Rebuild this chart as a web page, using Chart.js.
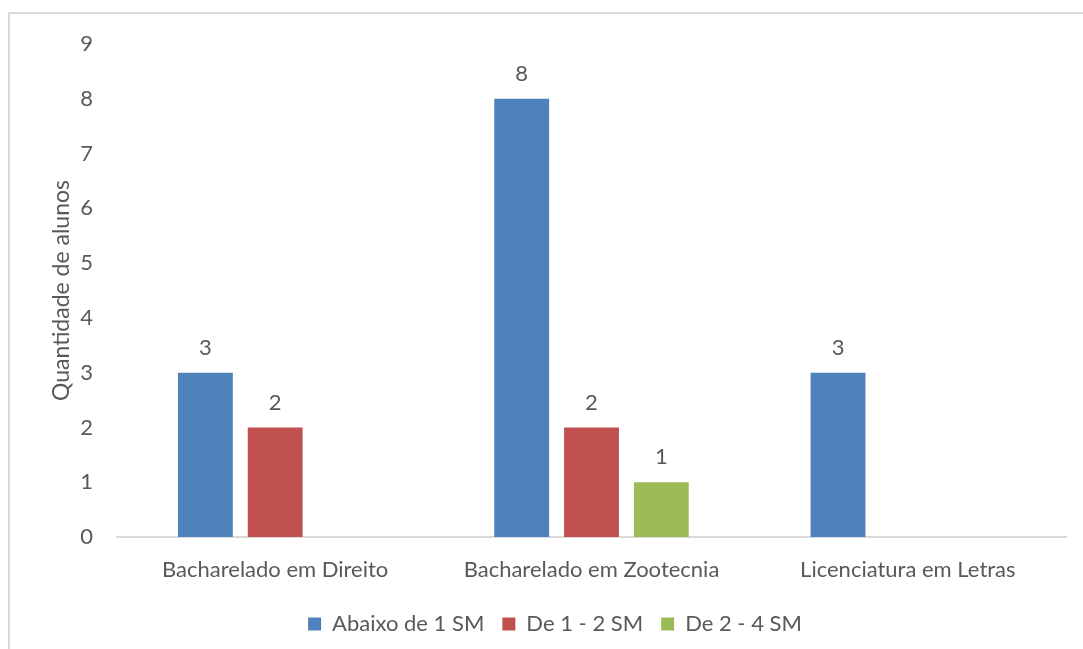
<!DOCTYPE html>
<html>
<head>
<meta charset="utf-8">
<script src="https://cdn.jsdelivr.net/npm/chart.js@4"></script>
<style>
  html, body { margin: 0; padding: 0; background: #fff; overflow: hidden; }
  #wrap { position: relative; width: 1083px; height: 649px; }
  #frame {
    position: absolute; left: 8px; top: 12px; width: 1100px; height: 700px;
    border-left: 2px solid #d9d9d9; border-top: 2px solid #d9d9d9;
    box-sizing: border-box;
  }
  canvas { position: absolute; left: 0; top: 0; }
</style>
</head>
<body>
<div id="wrap">
  <div id="frame"></div>
  <canvas id="renda" width="1083" height="649"></canvas>
</div>
<script>
const cursos = ['Bacharelado em Direito', 'Bacharelado em Zootecnia', 'Licenciatura em Letras'];
const abaixo1SM = [3, 8, 3];
const de1a2SM = [2, 2, null];
const de2a4SM = [null, 1, null];
const yTicks = [0, 1, 2, 3, 4, 5, 6, 7, 8, 9];

const textColor = '#595959';
const fontFamily = 'Lato, "Open Sans", sans-serif';

// value labels above each bar
const valueLabels = {
  id: 'valueLabels',
  afterDatasetsDraw(chart) {
    const ctx = chart.ctx;
    ctx.save();
    ctx.fillStyle = textColor;
    ctx.font = '22px ' + fontFamily;
    ctx.textAlign = 'center';
    ctx.textBaseline = 'bottom';
    chart.data.datasets.forEach((ds, i) => {
      chart.getDatasetMeta(i).data.forEach((bar, j) => {
        const v = ds.data[j];
        if (v == null) return;
        ctx.fillText(String(v), bar.x, bar.y - 14);
      });
    });
    ctx.restore();
  }
};

Chart.defaults.font.family = fontFamily;
Chart.defaults.color = textColor;

new Chart(document.getElementById('renda'), {
  type: 'bar',
  data: {
    labels: cursos,
    datasets: [
      { label: 'Abaixo de 1 SM', data: abaixo1SM, backgroundColor: '#4f81bd' },
      { label: 'De 1 - 2 SM', data: de1a2SM, backgroundColor: '#c0504d' },
      { label: 'De 2 - 4 SM', data: de2a4SM, backgroundColor: '#9bbb59' }
    ]
  },
  options: {
    responsive: false,
    animation: false,
    layout: { padding: { left: 44, top: 44, right: 17, bottom: 4 } },
    datasets: { bar: { barPercentage: 0.786, categoryPercentage: 0.662 } },
    scales: {
      x: {
        grid: { display: false },
        border: { color: '#d9d9d9', width: 2 },
        ticks: { font: { size: 22 }, color: textColor, padding: 12 },
        afterFit(scale) { scale.height = 58; }
      },
      y: {
        min: 0,
        max: yTicks[yTicks.length - 1],
        afterBuildTicks(scale) { scale.ticks = yTicks.map(v => ({ value: v })); },
        grid: { display: false },
        border: { display: false },
        ticks: { font: { size: 22 }, color: textColor, padding: 16 },
        title: { display: true, text: 'Quantidade de alunos', font: { size: 23 }, color: textColor },
        afterFit(scale) { scale.width = 73; }
      }
    },
    plugins: {
      legend: {
        position: 'bottom',
        labels: { boxWidth: 13, boxHeight: 13, padding: 18, font: { size: 22 }, color: textColor }
      },
      tooltip: { enabled: false }
    }
  },
  plugins: [valueLabels]
});
</script>
</body>
</html>
